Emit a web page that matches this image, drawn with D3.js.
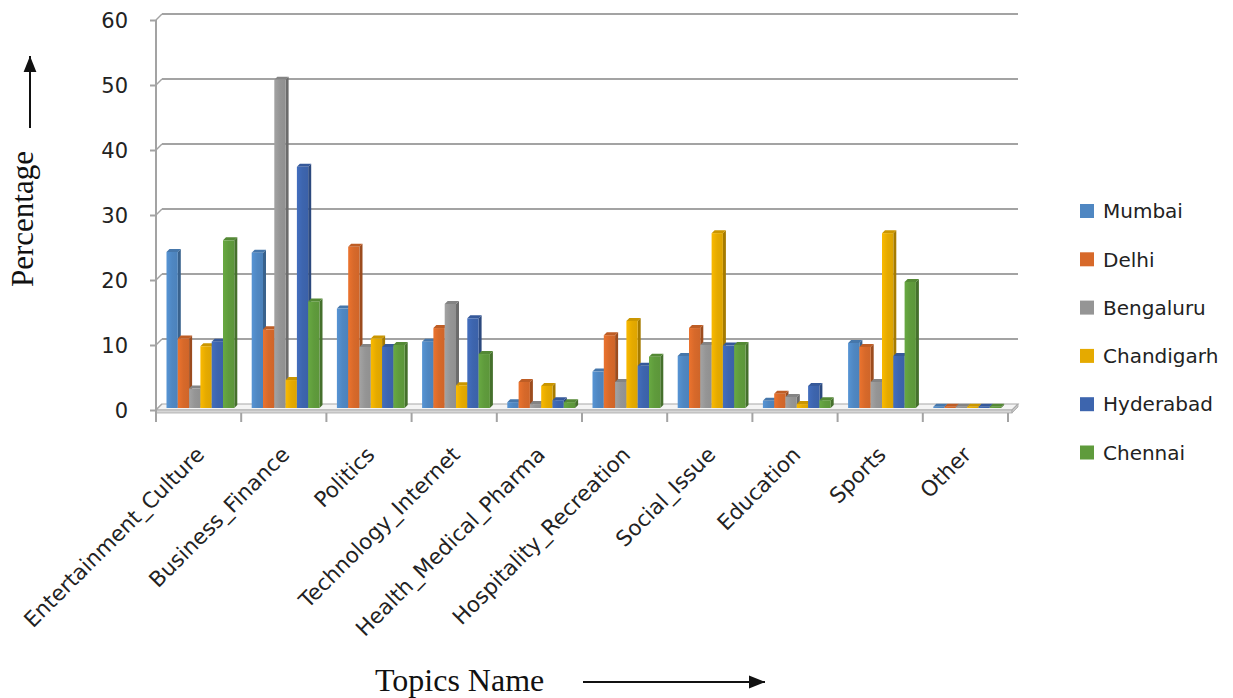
<!DOCTYPE html>
<html>
<head>
<meta charset="utf-8">
<script src="https://cdn.jsdelivr.net/npm/d3@7"></script>
<style>
  html, body { margin: 0; padding: 0; background: #ffffff; }
  svg { display: block; }
</style>
</head>
<body>
<svg id="chart" width="1233" height="698"></svg>
<script>
// Topic categories along the x axis
const categories = [
  "Entertainment_Culture", "Business_Finance", "Politics", "Technology_Internet",
  "Health_Medical_Pharma", "Hospitality_Recreation", "Social_Issue",
  "Education", "Sports", "Other"
];

// Share of tweets per topic (%) for each city
const mumbai     = [24.0, 23.9, 15.3, 10.2, 0.9, 5.6,  8.0, 1.1, 10.0, 0.2];
const delhi      = [10.7, 12.1, 24.8, 12.3, 4.0, 11.2, 12.3, 2.2, 9.4,  0.2];
const bengaluru  = [3.0,  50.5, 9.4,  16.0, 0.6, 4.0,  9.7,  1.7, 4.0,  0.2];
const chandigarh = [9.5,  4.3,  10.7, 3.5,  3.4, 13.4, 26.9, 0.6, 26.9, 0.2];
const hyderabad  = [10.2, 37.1, 9.4,  13.8, 1.2, 6.5,  9.6,  3.4, 8.0,  0.2];
const chennai    = [25.8, 16.4, 9.7,  8.3,  0.9, 7.9,  9.7,  1.2, 19.4, 0.2];

const cities = ["Mumbai", "Delhi", "Bengaluru", "Chandigarh", "Hyderabad", "Chennai"];
const seriesValues = [mumbai, delhi, bengaluru, chandigarh, hyderabad, chennai];
const cityColors = ["#4F87C2", "#D7692A", "#959595", "#E5AA00", "#3D65AE", "#5F9B3C"];

const yTicks = [0, 10, 20, 30, 40, 50, 60];

const svg = d3.select("#chart");

// Geometry of the pseudo-3D box
const depth = 6;          // wall / floor offset (right and up)
const barDepth = 3;       // offset of each column's side and top faces
const x = d3.scaleBand().domain(categories).range([156, 1008]).paddingInner(0).paddingOuter(0);
const xs = d3.scaleBand().domain(cities).range([10.5, 10.5 + 6 * 11.3]);
const yFront = d3.scaleLinear().domain([0, 60]).range([410, 20]);
const yBack = d3.scaleLinear().domain([0, 60]).range([410 - depth, 20 - depth]);
const yBar = d3.scaleLinear().domain([0, 60]).range([408, 18]);

const gridColor = "#a3a3a3";

// Back-wall gridlines with their short diagonal connectors to the front axis
const grid = svg.append("g");
yTicks.forEach(v => {
  if (v > 0) {
    grid.append("line")
      .attr("x1", 156 + depth).attr("x2", 1008 + depth + 4)
      .attr("y1", yBack(v)).attr("y2", yBack(v))
      .attr("stroke", gridColor).attr("stroke-width", 2);
  }
  grid.append("line")
    .attr("x1", 156).attr("y1", yFront(v))
    .attr("x2", 156 + depth).attr("y2", yBack(v))
    .attr("stroke", gridColor).attr("stroke-width", 1.5);
});

// Floor slab
const x0 = 156, x1 = 1008 + 4;
svg.append("path")
  .attr("d", `M${x0},${yFront(0)} L${x0 + depth},${yBack(0)} L${x1 + depth},${yBack(0)} L${x1},${yFront(0)} Z`)
  .attr("fill", "#f4f4f4").attr("stroke", "#a8a8a8").attr("stroke-width", 1.2);
svg.append("rect")
  .attr("x", x0).attr("y", yFront(0)).attr("width", x1 - x0).attr("height", 3)
  .attr("fill", "#d6d6d6").attr("stroke", "#a8a8a8").attr("stroke-width", 0.8);
svg.append("path")
  .attr("d", `M${x1},${yFront(0)} L${x1 + depth},${yBack(0)} L${x1 + depth},${yBack(0) + 3} L${x1},${yFront(0) + 3} Z`)
  .attr("fill", "#c4c4c4").attr("stroke", "#a8a8a8").attr("stroke-width", 0.8);

// Front value axis
const yAxisG = svg.append("g").attr("transform", "translate(156,0)")
  .call(d3.axisLeft(yFront).tickValues(yTicks).tickSize(6).tickPadding(22).tickFormat(d3.format("d")));
yAxisG.select(".domain").attr("stroke", gridColor).attr("stroke-width", 2)
  .attr("d", `M0,${yFront(60)}V${yFront(0) + 3}`);
yAxisG.selectAll(".tick line").attr("stroke", gridColor).attr("stroke-width", 2);
yAxisG.selectAll(".tick text")
  .attr("font-family", "DejaVu Sans, sans-serif").attr("font-size", 21)
  .attr("fill", "#222").attr("dy", "0.36em");

// Category tick marks below the floor
const catTicks = categories.map(c => x(c)).concat([1008]);
svg.append("g").selectAll("line").data(catTicks).join("line")
  .attr("x1", d => d).attr("x2", d => d)
  .attr("y1", yFront(0) + 3).attr("y2", yFront(0) + 12)
  .attr("stroke", gridColor).attr("stroke-width", 2);

// Columns
const shade = (c, k) => d3.color(c).darker(k).formatHex();
const tint = (c, k) => d3.color(c).brighter(k).formatHex();

const defs = svg.append("defs");
cityColors.forEach((c, i) => {
  const g = defs.append("linearGradient").attr("id", "front" + i)
    .attr("x1", "0").attr("x2", "1").attr("y1", "0").attr("y2", "0");
  g.append("stop").attr("offset", "0").attr("stop-color", tint(c, 0.25));
  g.append("stop").attr("offset", "0.5").attr("stop-color", c);
  g.append("stop").attr("offset", "1").attr("stop-color", shade(c, 0.1));
});

const barsG = svg.append("g");
categories.forEach((cat, ci) => {
  cities.forEach((city, si) => {
    const v = seriesValues[si][ci];
    const bx = x(cat) + xs(city);
    const bw = xs.bandwidth();
    const top = yBar(v);
    const base = yBar(0);
    const col = cityColors[si];
    const g = barsG.append("g");
    // right side face
    g.append("path")
      .attr("d", `M${bx + bw},${top} L${bx + bw + barDepth},${top - barDepth} L${bx + bw + barDepth},${base - barDepth} L${bx + bw},${base} Z`)
      .attr("fill", shade(col, 0.9));
    // top face
    g.append("path")
      .attr("d", `M${bx},${top} L${bx + barDepth},${top - barDepth} L${bx + bw + barDepth},${top - barDepth} L${bx + bw},${top} Z`)
      .attr("fill", shade(col, 0.35));
    // front face
    g.append("rect")
      .attr("x", bx).attr("y", top)
      .attr("width", bw).attr("height", Math.max(0, base - top))
      .attr("fill", `url(#front${si})`);
  });
});

// Rotated category labels
svg.append("g").selectAll("text").data(categories).join("text")
  .attr("transform", d => `translate(${x(d) + x.bandwidth() / 2 + 7},${456}) rotate(-45)`)
  .attr("text-anchor", "end")
  .attr("font-family", "DejaVu Sans, sans-serif").attr("font-size", 21.5)
  .attr("fill", "#222")
  .text(d => d);

// Legend
const legend = svg.append("g").selectAll("g").data(cities).join("g")
  .attr("transform", (d, i) => `translate(1080,${211 + i * 48.3})`);
legend.append("rect")
  .attr("x", 0).attr("y", -7).attr("width", 14).attr("height", 14)
  .attr("fill", (d, i) => cityColors[i]);
legend.append("text")
  .attr("x", 23).attr("y", 0).attr("dy", "0.36em")
  .attr("font-family", "DejaVu Sans, sans-serif").attr("font-size", 20)
  .attr("fill", "#222")
  .text(d => d);

// Axis titles with arrows
defs.append("marker").attr("id", "arrowHead")
  .attr("viewBox", "0 0 10 10").attr("refX", 10).attr("refY", 5)
  .attr("markerWidth", 16).attr("markerHeight", 16)
  .attr("markerUnits", "userSpaceOnUse")
  .attr("orient", "auto")
  .append("path").attr("d", "M0,1 L10,5 L0,9 Z").attr("fill", "#111");

svg.append("text")
  .attr("transform", "translate(33,219) rotate(-90)")
  .attr("text-anchor", "middle")
  .attr("font-family", "Liberation Serif, Times New Roman, serif").attr("font-size", 31)
  .attr("fill", "#111")
  .text("Percentage");

svg.append("path")
  .attr("d", "M30,128 L30,56")
  .attr("stroke", "#111").attr("stroke-width", 2)
  .attr("marker-end", "url(#arrowHead)");

svg.append("text")
  .attr("x", 375).attr("y", 691)
  .attr("font-family", "Liberation Serif, Times New Roman, serif").attr("font-size", 32)
  .attr("fill", "#111")
  .text("Topics Name");

svg.append("path")
  .attr("d", "M583,682 L765,682")
  .attr("stroke", "#111").attr("stroke-width", 2)
  .attr("marker-end", "url(#arrowHead)");
</script>
</body>
</html>
